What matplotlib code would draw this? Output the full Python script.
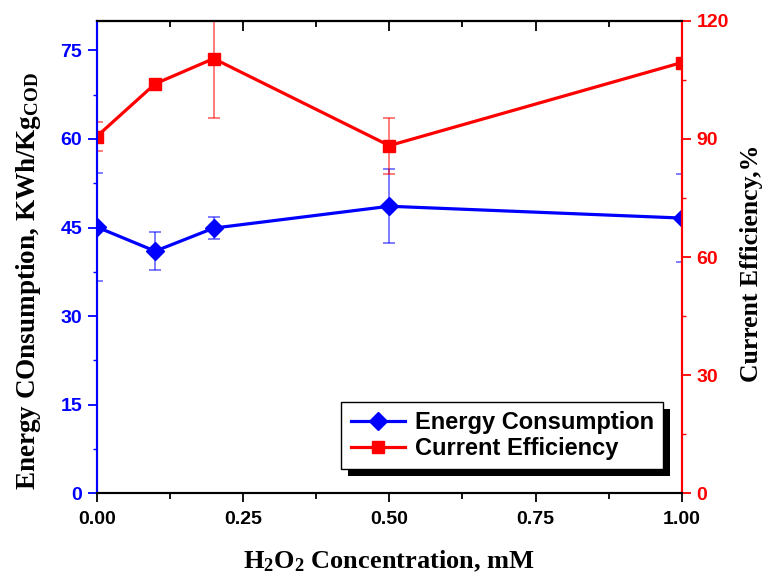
import numpy as np
import matplotlib
matplotlib.use("Agg")
import matplotlib.pyplot as plt
from matplotlib.ticker import MultipleLocator
from matplotlib.patches import Rectangle

# data
h2o2 = [0.0, 0.1, 0.2, 0.5, 1.0]
energy = [45.1, 41.0, 44.9, 48.6, 46.6]
energy_err = [9.2, 3.2, 1.8, 6.3, 7.4]
efficiency = [90.6, 104.0, 110.4, 88.3, 109.4]
efficiency_err = [3.6, 0.0, 15.2, 7.1, 0.0]

plt.rcParams['font.family'] = ['Liberation Sans', 'DejaVu Sans']
plt.rcParams['font.weight'] = 'bold'
plt.rcParams['mathtext.fontset'] = 'custom'
plt.rcParams['mathtext.rm'] = 'Liberation Serif:bold'
plt.rcParams['mathtext.it'] = 'Liberation Serif:bold'
plt.rcParams['mathtext.bf'] = 'Liberation Serif:bold'

blue = '#0000ff'
red = '#ff0000'
serif = dict(family='Liberation Serif', weight='bold', size=19)

fig = plt.figure(figsize=(7.67, 5.77), dpi=100)
ax = fig.add_axes([0.126, 0.145, 0.763, 0.819])
ax2 = ax.twinx()

l1 = ax.errorbar(h2o2, energy, yerr=energy_err, color=blue, lw=2.3,
                 marker='D', ms=9, ecolor=(0, 0, 1, 0.6), elinewidth=1.2,
                 capsize=4, capthick=1.2)
l2 = ax2.errorbar(h2o2, efficiency, yerr=efficiency_err, color=red, lw=2.3,
                  marker='s', ms=8.5, ecolor=(1, 0, 0, 0.6), elinewidth=1.2,
                  capsize=4, capthick=1.2)

ax.set_xlim(0, 1)
ax.set_ylim(0, 80)
ax2.set_ylim(0, 120)

ax.xaxis.set_major_locator(MultipleLocator(0.25))
ax.xaxis.set_minor_locator(MultipleLocator(0.125))
ax.yaxis.set_major_locator(MultipleLocator(15))
ax.yaxis.set_minor_locator(MultipleLocator(7.5))
ax2.yaxis.set_major_locator(MultipleLocator(30))
ax2.yaxis.set_minor_locator(MultipleLocator(15))

for a in (ax, ax2):
    for s in a.spines.values():
        s.set_linewidth(1.5)
ax.spines['left'].set_color(blue)
ax2.spines['left'].set_color(blue)
ax2.spines['right'].set_color(red)
ax.spines['right'].set_color(red)

ax.tick_params(axis='x', which='major', direction='out', length=6.5, width=1.3,
               labelsize=14, pad=6)
ax.tick_params(axis='x', which='minor', direction='out', length=4, width=1.3)
ax.tick_params(axis='y', which='major', direction='out', length=6.5, width=1.3,
               colors=blue, labelsize=14, pad=4)
ax.tick_params(axis='y', which='minor', direction='out', length=3, width=1.0, colors=blue)
ax2.tick_params(axis='y', which='major', direction='out', length=6.5, width=1.3,
                colors=red, labelsize=14, pad=4)
ax2.tick_params(axis='y', which='minor', direction='out', length=3, width=1.0, colors=red)

top = ax.secondary_xaxis('top')
top.xaxis.set_major_locator(MultipleLocator(0.25))
top.xaxis.set_minor_locator(MultipleLocator(0.125))
top.tick_params(which='major', direction='in', length=7, width=1.3, labeltop=False)
top.tick_params(which='minor', direction='in', length=4, width=1.3)
top.spines['top'].set_linewidth(1.5)

ax.set_xlabel(r'H$_2$O$_2$ Concentration, mM', fontdict=serif, labelpad=15)
ax.set_ylabel(r'Energy COnsumption, KWh/Kg$_{\mathrm{COD}}$',
              fontdict=dict(serif, size=19.5))
ax.yaxis.set_label_coords(-0.092, 0.449)
ax2.set_ylabel('Current Efficiency,%', fontdict=dict(serif, size=18.5))
ax2.yaxis.set_label_coords(1.099, 0.487)

leg = ax2.legend([l1[0], l2[0]], ['Energy Consumption', 'Current Efficiency'],
                 loc='lower right', bbox_to_anchor=(0.968, 0.051),
                 borderaxespad=0, fancybox=False, edgecolor='black',
                 framealpha=1, handlelength=2.3, handletextpad=0.4,
                 borderpad=0.4, labelspacing=0.1,
                 prop=dict(family='Liberation Sans', weight='bold', size=17))
leg.get_frame().set_linewidth(1.0)
leg.set_zorder(10)

# solid black drop shadow behind the legend box
fig.canvas.draw()
bb = leg.get_window_extent().transformed(ax2.transAxes.inverted())
dx = 7 / (ax2.bbox.width)
dy = 7 / (ax2.bbox.height)
shadow = Rectangle((bb.x0 + dx, bb.y0 - dy), bb.width, bb.height,
                   transform=ax2.transAxes, facecolor='black', edgecolor='none',
                   zorder=9, clip_on=False)
ax2.add_patch(shadow)

fig.savefig('out.png', dpi=100)
